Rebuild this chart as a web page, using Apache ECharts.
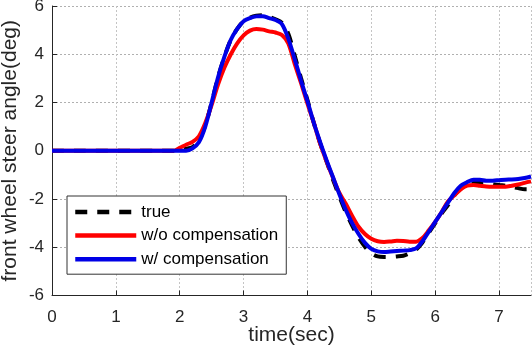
<!DOCTYPE html>
<html>
<head>
<meta charset="utf-8">
<script src="https://cdn.jsdelivr.net/npm/echarts@6/dist/echarts.min.js"></script>
<style>
html,body{margin:0;padding:0;background:#fff;}
#chart{width:532px;height:354px;}
</style>
</head>
<body>
<div id="chart"></div>
<script>
var timeData = [0, 1.9, 2.0, 2.1, 2.2, 2.3, 2.4, 2.5, 2.6, 2.7, 2.8, 2.9, 3.0, 3.1, 3.2, 3.3, 3.4, 3.5, 3.6, 3.7, 3.8, 3.9,
    4.0, 4.1, 4.2, 4.3, 4.4, 4.5, 4.6, 4.7, 4.8, 4.9, 5.0, 5.1, 5.2, 5.3, 5.4, 5.5, 5.6, 5.7, 5.8, 5.9,
    6.0, 6.1, 6.2, 6.3, 6.4, 6.5, 6.6, 6.7, 6.8, 6.9, 7.0, 7.1, 7.2, 7.3, 7.4, 7.5];
// true steer angle
var trueData = [0, 0, 0.05, 0.08, 0.15, 0.45, 1.05, 2.0, 3.05, 3.9, 4.6, 5.05, 5.37, 5.52, 5.6, 5.62, 5.55, 5.45, 5.3, 4.85, 3.95, 3.0,
    2.1, 1.15, 0.3, -0.45, -1.2, -1.9, -2.55, -3.1, -3.6, -3.98, -4.25, -4.38, -4.4, -4.4, -4.38, -4.35, -4.25, -4.1, -3.8, -3.4,
    -3.0, -2.6, -2.25, -1.85, -1.55, -1.4, -1.3, -1.3, -1.33, -1.38, -1.42, -1.45, -1.5, -1.55, -1.6, -1.6];
// w/o compensation
var woData = [0, 0, 0.12, 0.25, 0.37, 0.6, 1.15, 1.9, 2.75, 3.45, 4.0, 4.45, 4.78, 4.98, 5.05, 5.02, 4.95, 4.9, 4.8, 4.45, 3.6, 2.8,
    1.95, 1.15, 0.28, -0.45, -1.12, -1.75, -2.2, -2.7, -3.15, -3.45, -3.65, -3.75, -3.78, -3.76, -3.73, -3.74, -3.77, -3.77, -3.62, -3.3,
    -2.95, -2.55, -2.1, -1.85, -1.6, -1.45, -1.42, -1.45, -1.48, -1.49, -1.49, -1.49, -1.45, -1.4, -1.33, -1.27];
// w/ compensation
var wData = [0, 0, 0, 0, 0.1, 0.35, 1.0, 2.0, 3.05, 3.9, 4.6, 5.05, 5.37, 5.5, 5.57, 5.58, 5.5, 5.42, 5.25, 4.65, 3.8, 2.9,
    2.05, 1.15, 0.35, -0.4, -1.1, -1.8, -2.45, -3.0, -3.45, -3.82, -4.07, -4.17, -4.2, -4.18, -4.16, -4.14, -4.12, -4.05, -3.75, -3.35,
    -2.95, -2.55, -2.15, -1.75, -1.45, -1.3, -1.2, -1.2, -1.24, -1.24, -1.22, -1.2, -1.19, -1.17, -1.13, -1.07];

function pairs(ys){
    var out = [];
    for (var i = 0; i < timeData.length; i++) out.push([timeData[i], ys[i]]);
    return out;
}

var myChart = echarts.init(document.getElementById('chart'));
var axisColor = '#262626';
var option = {
    backgroundColor: '#fff',
    animation: false,
    textStyle: {fontFamily: 'Liberation Sans, Arial, sans-serif'},
    grid: {left: 52, right: 1, top: 6, bottom: 58.5, outerBoundsMode: 'none', containLabel: false},
    legend: {
        orient: 'vertical',
        left: 67,
        top: 196,
        padding: [7, 8, 6, 6],
        itemGap: 5.6,
        itemWidth: 61,
        itemHeight: 14,
        borderColor: '#333',
        borderWidth: 1,
        backgroundColor: '#fff',
        itemStyle: {opacity: 0, borderWidth: 0},
        lineStyle: {width: 4.5},
        textStyle: {fontSize: 17, color: '#000', lineHeight: 18},
        data: ['true', 'w/o compensation', 'w/ compensation']
    },
    xAxis: {
        type: 'value',
        min: 0,
        max: 7.5,
        interval: 1,
        name: 'time(sec)',
        nameLocation: 'middle',
        nameGap: 29,
        nameMoveOverlap: false,
        nameTextStyle: {fontSize: 21, color: axisColor},
        axisLine: {onZero: false, lineStyle: {color: axisColor, width: 1}},
        axisTick: {inside: true, length: 5, lineStyle: {color: axisColor}},
        axisLabel: {fontSize: 17, color: axisColor, margin: 13, showMaxLabel: false},
        splitLine: {show: true, lineStyle: {color: '#c4c4c4', type: [2, 2], width: 1}}
    },
    yAxis: {
        type: 'value',
        min: -6,
        max: 6,
        interval: 2,
        name: 'front wheel steer angle(deg)',
        nameLocation: 'middle',
        nameGap: 31,
        nameMoveOverlap: false,
        nameTextStyle: {fontSize: 21, color: axisColor},
        axisLine: {show: true, lineStyle: {color: axisColor, width: 1}},
        axisTick: {show: true, inside: true, length: 5, lineStyle: {color: axisColor}},
        axisLabel: {fontSize: 17, color: axisColor, margin: 8},
        splitLine: {show: true, lineStyle: {color: '#b0b0b0', type: [2, 2], width: 1}}
    },
    series: [
        {
            name: 'true',
            type: 'line',
            smooth: 0.3,
            symbol: 'none',
            data: pairs(trueData),
            lineStyle: {color: '#000', width: 4, type: [12, 10]},
            itemStyle: {color: '#000'}
        },
        {
            name: 'w/o compensation',
            type: 'line',
            smooth: 0.3,
            symbol: 'none',
            data: pairs(woData),
            lineStyle: {color: '#f00', width: 4},
            itemStyle: {color: '#f00'}
        },
        {
            name: 'w/ compensation',
            type: 'line',
            smooth: 0.3,
            symbol: 'none',
            data: pairs(wData),
            lineStyle: {color: '#0000e6', width: 4},
            itemStyle: {color: '#0000e6'}
        }
    ]
};
myChart.setOption(option);
</script>
</body>
</html>
